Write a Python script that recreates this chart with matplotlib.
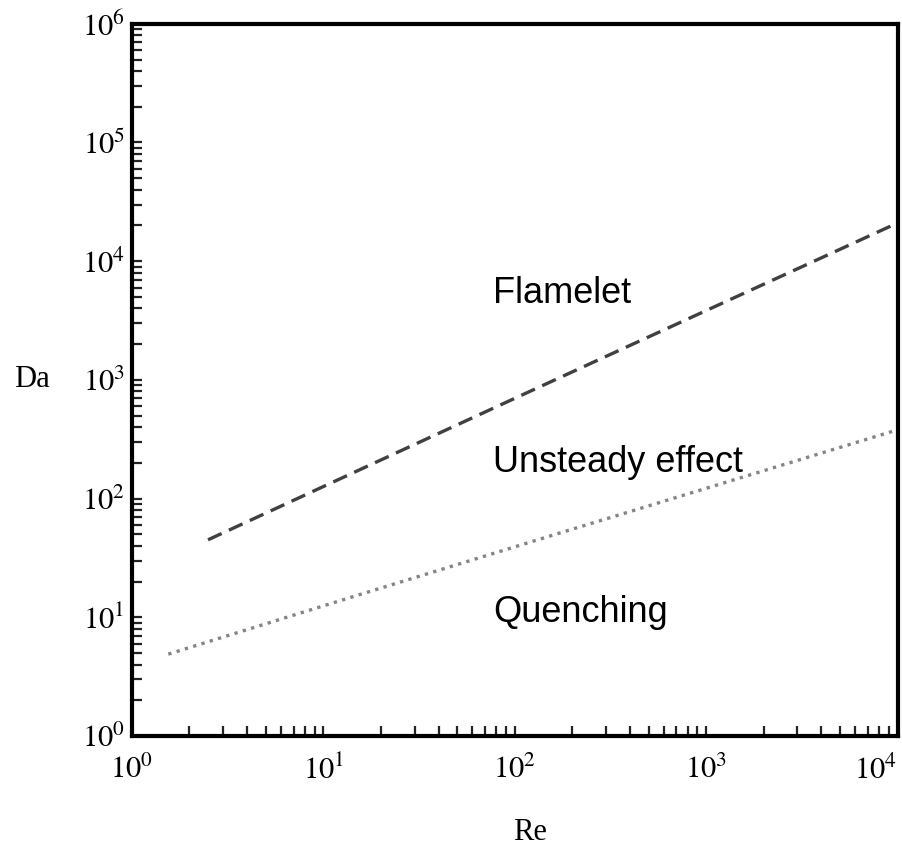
import matplotlib
matplotlib.use("Agg")
import matplotlib.pyplot as plt
from matplotlib.ticker import LogLocator, NullFormatter

plt.rcParams["font.family"] = ["Liberation Serif", "DejaVu Serif"]
plt.rcParams["mathtext.fontset"] = "stix"

# boundary lines
re_flamelet = [2.5, 25, 250, 10000]
da_flamelet = [45, 250, 1380, 21000]
re_quench = [1.55, 15, 150, 10000]
da_quench = [4.9, 15.3, 48, 380]

regions = ["Flamelet", "Unsteady effect", "Quenching"]
region_re = [77, 77, 77]
region_da = [4450, 168, 9.1]

x_ticks = [1, 10, 100, 1000, 10000]
x_ticklabels = ["$10^{0}$", "$10^{1}$", "$10^{2}$", "$10^{3}$", "$10^{4}$"]
y_ticks = [1, 10, 100, 1000, 1e4, 1e5, 1e6]
y_ticklabels = ["$10^{0}$", "$10^{1}$", "$10^{2}$", "$10^{3}$",
                "$10^{4}$", "$10^{5}$", "$10^{6}$"]

fig = plt.figure(figsize=(9.03, 8.49), dpi=100)
ax = fig.add_axes([0.146, 0.133, 0.848, 0.839])

ax.plot(re_flamelet, da_flamelet, color="#404040", lw=2.4, dashes=(4.5, 2.4))
ax.plot(re_quench, da_quench, color="#858585", lw=2.4, linestyle=(0, (1, 1.6)))

for name, x, y in zip(regions, region_re, region_da):
    ax.text(x, y, name, family=["Liberation Sans", "DejaVu Sans"], fontsize=26,
            ha="left", va="baseline")

ax.set_xscale("log")
ax.set_yscale("log")
ax.set_xlim(1, 1e4)
ax.set_ylim(1, 1e6)

for axis in (ax.xaxis, ax.yaxis):
    axis.set_minor_locator(LogLocator(base=10, subs=range(2, 10), numticks=10))
    axis.set_minor_formatter(NullFormatter())
ax.set_xticks(x_ticks, x_ticklabels)
ax.set_yticks(y_ticks, y_ticklabels)

ax.tick_params(which="both", direction="in", length=7, width=1.6,
               top=False, right=False, labelsize=22, color="#222222")
ax.tick_params(axis="x", which="major", pad=14)
ax.tick_params(axis="y", which="major", pad=5)

xlabels = ax.get_xticklabels()
xlabels[-1].set_ha("right")

for s in ax.spines.values():
    s.set_linewidth(3)

ax.set_xlabel("Re", fontsize=22)
ax.xaxis.set_label_coords(0.52, -0.136)
ax.xaxis.label.set_va("center")
ax.set_ylabel("Da", fontsize=22, rotation=0)
ax.yaxis.set_label_coords(-0.13, 0.5)
ax.yaxis.label.set_va("center")

fig.savefig("out.png", dpi=100)
